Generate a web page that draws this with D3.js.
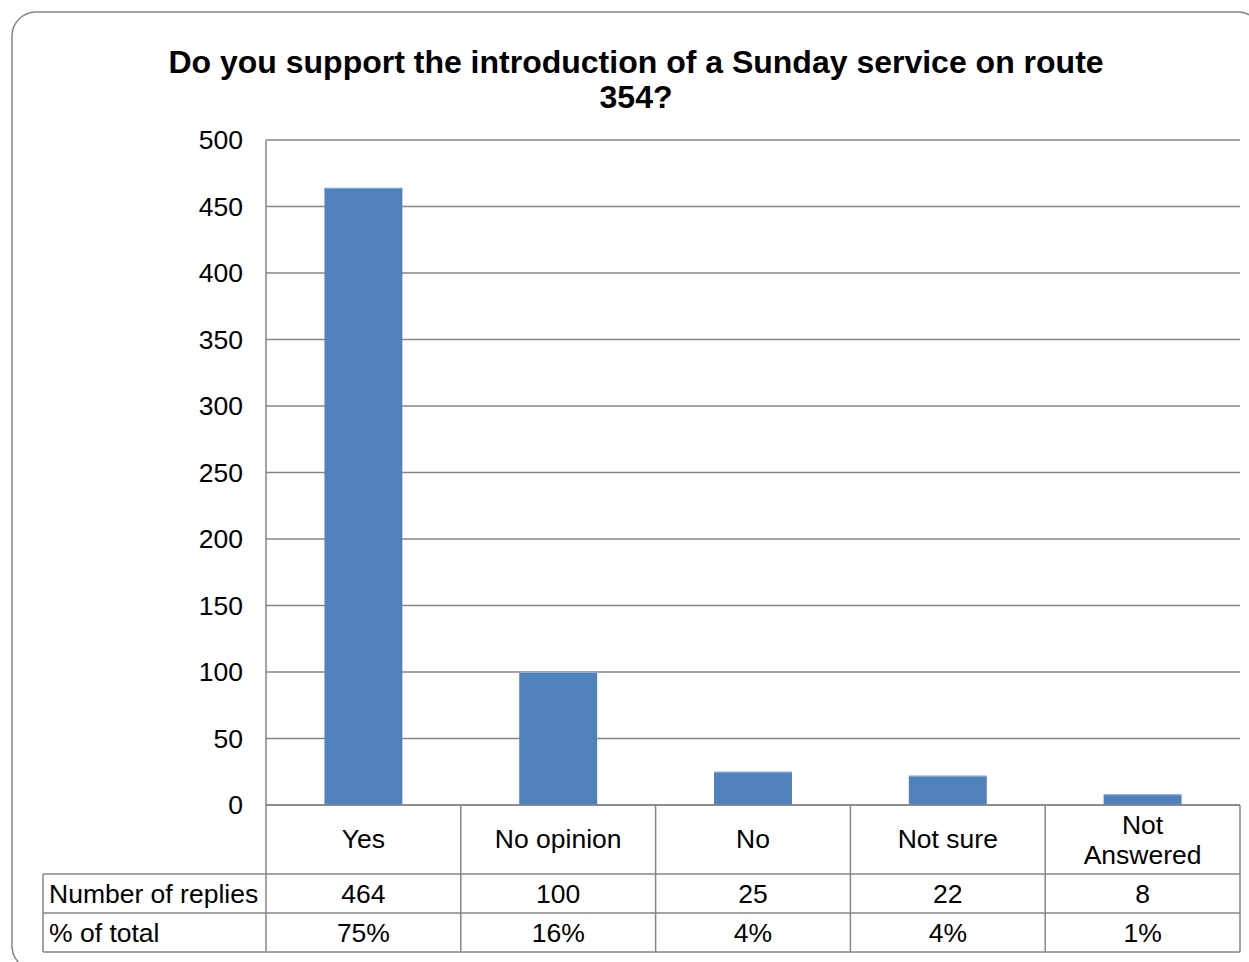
<!DOCTYPE html>
<html><head><meta charset="utf-8">
<script src="https://cdn.jsdelivr.net/npm/d3@7"></script>
<style>body{margin:0;background:#fff}svg{display:block}</style>
</head><body>
<script>
const categories = ["Yes", "No opinion", "No", "Not sure", "Not Answered"];
const replies = [464, 100, 25, 22, 8];
const percents = ["75%", "16%", "4%", "4%", "1%"];
const yTicks = [0, 50, 100, 150, 200, 250, 300, 350, 400, 450, 500];
const rowLabels = ["Number of replies", "% of total"];
const titleLines = ["Do you support the introduction of a Sunday service on route", "354?"];

(function () {
const W = 1249, H = 962;
const svg = d3.select("body").append("svg").attr("width", W).attr("height", H);
const font = "'Liberation Sans', Arial, sans-serif";
const fs = 26.5;

svg.append("rect").attr("x", 12).attr("y", 12).attr("width", 1250).attr("height", 958)
  .attr("rx", 24).attr("fill", "#fff").attr("stroke", "#868686").attr("stroke-width", 1.5);

const pLeft = 266, pRight = 1240, pTop = 140, pBottom = 805;
const x = d3.scaleBand().domain(categories).range([pLeft, pRight]).paddingInner(0.6).paddingOuter(0.3);
const xc = d3.scaleBand().domain(categories).range([pLeft, pRight]);
const y = d3.scaleLinear().domain([0, 500]).range([pBottom, pTop]);

svg.append("text").attr("text-anchor", "middle")
  .attr("font-family", font).attr("font-weight", "bold").attr("font-size", 32)
  .selectAll("tspan").data(titleLines).join("tspan")
  .attr("x", 636).attr("y", (d, i) => 73 + i * 34.5).text(d => d);

svg.append("g").selectAll("line").data(yTicks).join("line")
  .attr("x1", pLeft).attr("x2", pRight).attr("y1", d => y(d)).attr("y2", d => y(d))
  .attr("stroke", "#868686").attr("stroke-width", 1.5);

svg.append("g").selectAll("text").data(yTicks).join("text")
  .attr("x", 243).attr("y", d => y(d)).attr("dy", "0.35em").attr("text-anchor", "end")
  .attr("font-family", font).attr("font-size", fs).attr("fill", "#000").text(d => d);

svg.append("g").selectAll("rect").data(replies).join("rect")
  .attr("x", (d, i) => x(categories[i])).attr("width", x.bandwidth())
  .attr("y", d => y(d)).attr("height", d => pBottom - y(d))
  .attr("fill", "#4F81BD");
svg.append("g").selectAll("line").data(replies).join("line")
  .attr("x1", (d, i) => x(categories[i])).attr("x2", (d, i) => x(categories[i]) + x.bandwidth())
  .attr("y1", d => y(d) + 0.5).attr("y2", d => y(d) + 0.5)
  .attr("stroke", "#8EAEDA").attr("stroke-width", 1);

const rowY = [805, 874, 913, 952];
const tableLeft = 43;
const g = svg.append("g").attr("stroke", "#868686").attr("stroke-width", 1.5);
g.append("line").attr("x1", pLeft).attr("x2", pRight).attr("y1", rowY[0]).attr("y2", rowY[0]);
[1, 2, 3].forEach(i => g.append("line").attr("x1", tableLeft).attr("x2", pRight).attr("y1", rowY[i]).attr("y2", rowY[i]));
g.append("line").attr("x1", pLeft).attr("x2", pLeft).attr("y1", pTop).attr("y2", rowY[3]);
g.append("line").attr("x1", tableLeft).attr("x2", tableLeft).attr("y1", rowY[1]).attr("y2", rowY[3]);
categories.forEach(c => {
  const xr = xc(c) + xc.bandwidth();
  g.append("line").attr("x1", xr).attr("x2", xr).attr("y1", rowY[0]).attr("y2", rowY[3]);
});

const tt = svg.append("g").attr("font-family", font).attr("font-size", fs).attr("fill", "#000");
categories.forEach(c => {
  const cx = xc(c) + xc.bandwidth() / 2;
  const parts = c === "Not Answered" ? ["Not", "Answered"] : [c];
  const t = tt.append("text").attr("text-anchor", "middle");
  parts.forEach((p, i) => t.append("tspan").attr("x", cx)
    .attr("y", parts.length > 1 ? 834 + i * 30 : 848).text(p));
});
rowLabels.forEach((r, i) => tt.append("text").attr("x", 49).attr("y", (rowY[i + 1] + rowY[i + 2]) / 2).attr("dy", "0.35em").text(r));
const rows = [replies.map(String), percents];
rows.forEach((vals, ri) => vals.forEach((v, i) => {
  tt.append("text").attr("x", xc(categories[i]) + xc.bandwidth() / 2)
    .attr("y", (rowY[ri + 1] + rowY[ri + 2]) / 2).attr("dy", "0.35em")
    .attr("text-anchor", "middle").text(v);
}));
})();
</script>
</body></html>
